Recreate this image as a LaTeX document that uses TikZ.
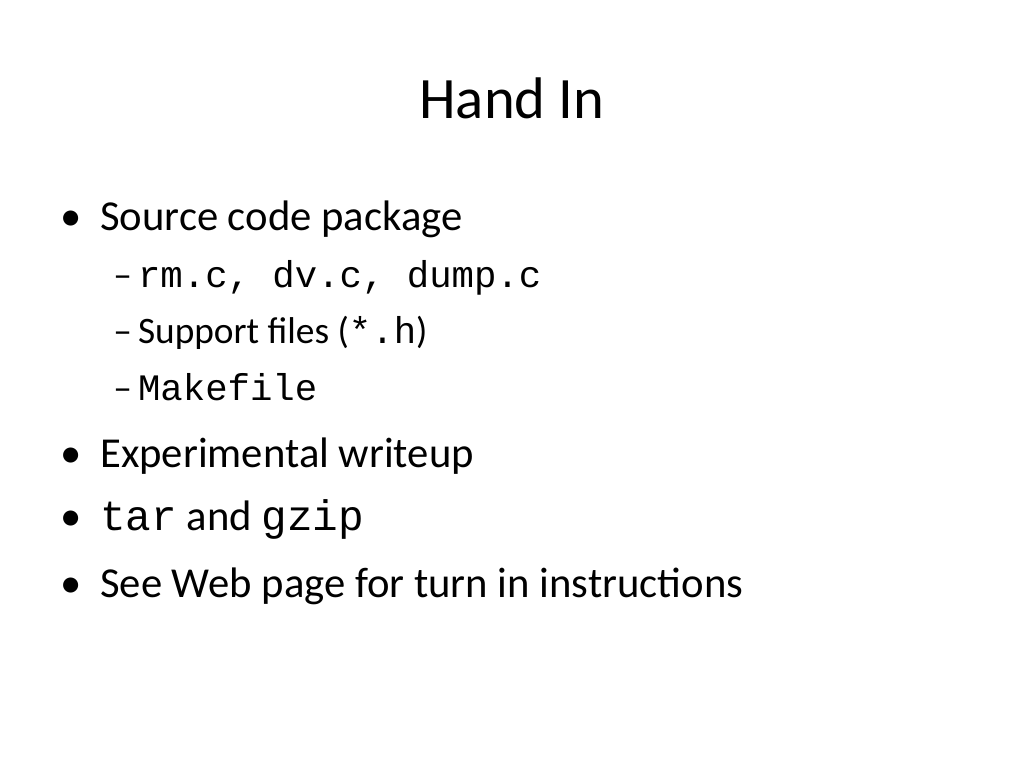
\documentclass[tikz,border=0pt]{standalone}
\usepackage{fontspec}
\setmainfont{Carlito}
\setmonofont{Liberation Mono}
\begin{document}
\begin{tikzpicture}[x=0.75pt,y=-0.75pt,
  every node/.style={inner sep=0pt,anchor=base west},
  lone/.style={font=\fontsize{32}{38}\selectfont},
  ltwo/.style={font=\fontsize{28}{34}\selectfont}]
\useasboundingbox (0,0) rectangle (1024,768);
\node[anchor=base,font=\fontsize{44}{52}\selectfont] (title) at (512,118) {Hand In};
\node[lone] (b1d) at (60,230) {•};
\node[lone] (b1) at (100,230) {Source code package};
\node[ltwo] (s1) at (113,287) {–\,\texttt{rm.c, dv.c, dump.c}};
\node[ltwo] (s2) at (113,343) {–\,Support files (\texttt{*.h})};
\node[ltwo] (s3) at (113,400) {–\,\texttt{Makefile}};
\node[lone] (b2d) at (60,467) {•};
\node[lone] (b2) at (100,467) {Experimental writeup};
\node[lone] (b3d) at (60,530) {•};
\node[lone] (b3) at (100,530) {\texttt{tar} and \texttt{gzip}};
\node[lone] (b4d) at (60,597) {•};
\node[lone] (b4) at (100,597) {See Web page for turn in instructions};
\end{tikzpicture}
\end{document}
